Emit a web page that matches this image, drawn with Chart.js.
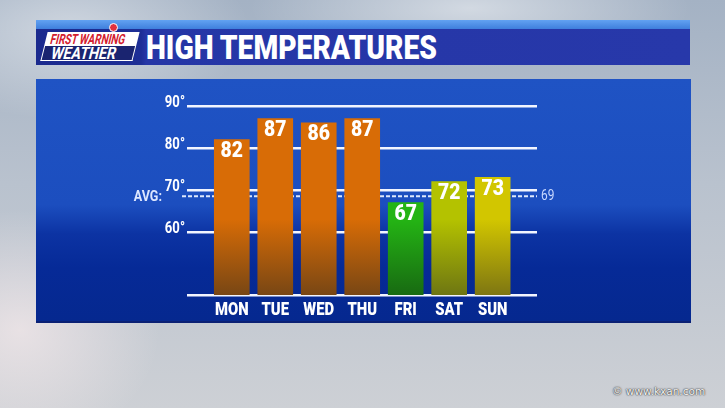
<!DOCTYPE html>
<html>
<head>
<meta charset="utf-8">
<script src="https://cdn.jsdelivr.net/npm/chart.js@4.4.1/dist/chart.umd.min.js"></script>
<style>
  body {
    margin: 0; width: 725px; height: 408px; overflow: hidden; position: relative;
    font-family: Roboto, 'DejaVu Sans', sans-serif;
    background:
      radial-gradient(ellipse 180px 90px at 70px 30px, rgba(255,255,255,0.45), rgba(255,255,255,0) 100%),
      radial-gradient(ellipse 220px 60px at 470px 8px, rgba(255,255,255,0.5), rgba(255,255,255,0) 100%),
      radial-gradient(ellipse 140px 120px at 20px 330px, rgba(255,240,240,0.6), rgba(255,255,255,0) 100%),
      linear-gradient(180deg, #a4b2c4 0%, #b9c2ce 45%, #cdd0d5 100%);
  }
  .strip { position: absolute; left: 36px; top: 20px; width: 654px; height: 9px;
    background: linear-gradient(180deg, #62a2f2, #3f7fdc); }
  .band { position: absolute; left: 36px; top: 29px; width: 654px; height: 36px;
    background: linear-gradient(90deg, #1b2a8e 0px, #1d2e96 105px, #2536a6 110px, #2738aa 100%); }
  .title { position: absolute; left: 146px; top: 29px; height: 36px; line-height: 37px;
    color: #fff; font-weight: 900; font-size: 33px; white-space: nowrap; }
  .fit { display: inline-block; white-space: nowrap; transform-origin: left center; }
  .logo { position: absolute; left: 44px; top: 32px; width: 92px; transform: skewX(-14deg); }
  .logo .top { background: #fff; color: #d3202e; font-weight: bold; font-size: 14px;
    line-height: 14px; height: 14px; padding-left: 5px; overflow: hidden; }
  .logo .bot { background: #1a2470; border: 1.5px solid #fff; border-top: none; color: #fff;
    font-weight: bold; font-size: 17px; line-height: 14px; height: 14px; padding-left: 8px; overflow: hidden; }
  .dot { position: absolute; left: 109px; top: 23px; width: 7px; height: 7px; border-radius: 50%;
    background: #e2313f; border: 1px solid #fff; }
  .panel { position: absolute; left: 36px; top: 79px; width: 655px; height: 242px;
    background: linear-gradient(180deg, #1f53c4 0%, #1c4ebf 52%, #0c33a3 64%, #062a97 78%, #05288f 100%);
    border-bottom: 2px solid #0a2074; }
  .wm { position: absolute; left: 612px; top: 385px; font-family: 'DejaVu Sans', sans-serif;
    font-size: 10.5px; color: #f4f4f4; text-shadow: 0 0 2px #333, 0 0 1px #222; white-space: nowrap; }
  canvas { position: absolute; left: 0; top: 0; }
</style>
</head>
<body>
<div class="strip"></div>
<div class="band"></div>
<div class="logo">
  <div class="top"><span class="fit" data-w="77">FIRST WARNING</span></div>
  <div class="bot"><span class="fit" data-w="68">WEATHER</span></div>
</div>
<div class="dot"></div>
<div class="title"><span class="fit" data-w="291">HIGH TEMPERATURES</span></div>
<div class="panel"></div>
<div class="wm">© www.kxan.com</div>
<canvas id="chart" width="725" height="408"></canvas>
<script>
// Forecast data
const days = ['MON', 'TUE', 'WED', 'THU', 'FRI', 'SAT', 'SUN'];
const highs = [82, 87, 86, 87, 67, 72, 73];
const avgHigh = 69;
const yTicks = [45, 60, 70, 80, 90];
const barTop = ['#d86c06', '#d86c06', '#d86c06', '#d86c06', '#24b414', '#b4c200', '#d2c600'];
const barBottom = ['#784614', '#784614', '#784614', '#784614', '#186a12', '#6e7612', '#7e7612'];

const FONT = "Roboto, 'DejaVu Sans', sans-serif";

// squeeze the header texts to the condensed widths of the broadcast font
document.querySelectorAll('.fit').forEach(el => {
  const w = parseFloat(el.dataset.w);
  el.style.transform = 'scaleX(' + (w / el.getBoundingClientRect().width) + ')';
});

// gradient that darkens the lower part of each bar
function barFill(ctx) {
  const chart = ctx.chart;
  const area = chart.chartArea;
  const i = ctx.dataIndex;
  if (!area) return barTop[i];
  const g = chart.ctx.createLinearGradient(0, area.top, 0, area.bottom);
  g.addColorStop(0, barTop[i]);
  g.addColorStop(0.6, barTop[i]);
  g.addColorStop(1, barBottom[i]);
  return g;
}

// draw text squeezed horizontally (no condensed font is installed)
function narrowText(ctx, text, x, y, align, sx) {
  ctx.save();
  ctx.translate(x, y);
  ctx.scale(sx, 1);
  ctx.textAlign = align;
  ctx.fillText(text, 0, 0);
  ctx.restore();
}

// dashed average line + labels, drawn under the bars
const avgLine = {
  id: 'avgLine',
  beforeDatasetsDraw(chart) {
    const { ctx, chartArea, scales } = chart;
    const y = scales.y.getPixelForValue(avgHigh) + 2;
    ctx.save();
    ctx.strokeStyle = 'rgba(232,240,255,0.95)';
    ctx.lineWidth = 2;
    ctx.setLineDash([4, 2]);
    ctx.beginPath();
    ctx.moveTo(chartArea.left - 5, y);
    ctx.lineTo(chartArea.right, y);
    ctx.stroke();
    ctx.setLineDash([]);
    ctx.textBaseline = 'middle';
    ctx.fillStyle = '#dde7ff';
    ctx.font = 'bold 15px ' + FONT;
    narrowText(ctx, 'AVG:', chartArea.left - 25, y + 1, 'right', 0.84);
    ctx.fillStyle = '#c9d9ff';
    ctx.font = '14px ' + FONT;
    narrowText(ctx, String(avgHigh), chartArea.right + 4, y, 'left', 0.85);
    ctx.restore();
  }
};

// tick labels on both axes, placed from the scales
const axisLabels = {
  id: 'axisLabels',
  afterDraw(chart) {
    const { ctx, chartArea, scales } = chart;
    ctx.save();
    ctx.fillStyle = '#ffffff';
    ctx.textBaseline = 'middle';
    ctx.font = 'bold 16px ' + FONT;
    yTicks.slice(1).forEach(v => {
      narrowText(ctx, v + '°', chartArea.left - 2, scales.y.getPixelForValue(v) - 3.5, 'right', 0.82);
    });
    ctx.font = '900 19px ' + FONT;
    days.forEach((d, i) => {
      narrowText(ctx, d, scales.x.getPixelForValue(i), chartArea.bottom + 15, 'center', 0.78);
    });
    ctx.restore();
  }
};

// value labels inside the top of each bar
const valueLabels = {
  id: 'valueLabels',
  afterDatasetsDraw(chart) {
    const { ctx } = chart;
    const meta = chart.getDatasetMeta(0);
    ctx.save();
    ctx.fillStyle = '#ffffff';
    ctx.font = '900 22px ' + FONT;
    ctx.textBaseline = 'middle';
    meta.data.forEach((bar, i) => {
      narrowText(ctx, String(highs[i]), bar.x, bar.y + 12, 'center', 0.88);
    });
    ctx.restore();
  }
};

new Chart(document.getElementById('chart'), {
  type: 'bar',
  data: {
    datasets: [{
      data: highs.map((v, i) => ({ x: i, y: v })),
      backgroundColor: barFill,
      borderWidth: 0,
      barThickness: 35,
    }],
  },
  options: {
    responsive: false,
    animation: false,
    layout: { padding: { top: 106, right: 188, left: 0, bottom: 0 } },
    plugins: { legend: { display: false }, tooltip: { enabled: false } },
    scales: {
      x: {
        type: 'linear',
        offset: false,
        min: -1.03,
        max: 7.02,
        grid: { display: false },
        border: { display: false },
        afterBuildTicks: (s) => { s.ticks = days.map((d, i) => ({ value: i })); },
        afterFit: (s) => { s.height = 113; },
        ticks: { display: false },
      },
      y: {
        min: 45,
        max: 90,
        afterBuildTicks: (s) => { s.ticks = yTicks.map(v => ({ value: v })); },
        afterFit: (s) => { s.width = 187; },
        grid: { color: '#f2f5ff', lineWidth: 2.5, drawTicks: false },
        border: { display: false },
        ticks: { display: false },
      },
    },
  },
  plugins: [avgLine, valueLabels, axisLabels],
});
</script>
</body>
</html>
